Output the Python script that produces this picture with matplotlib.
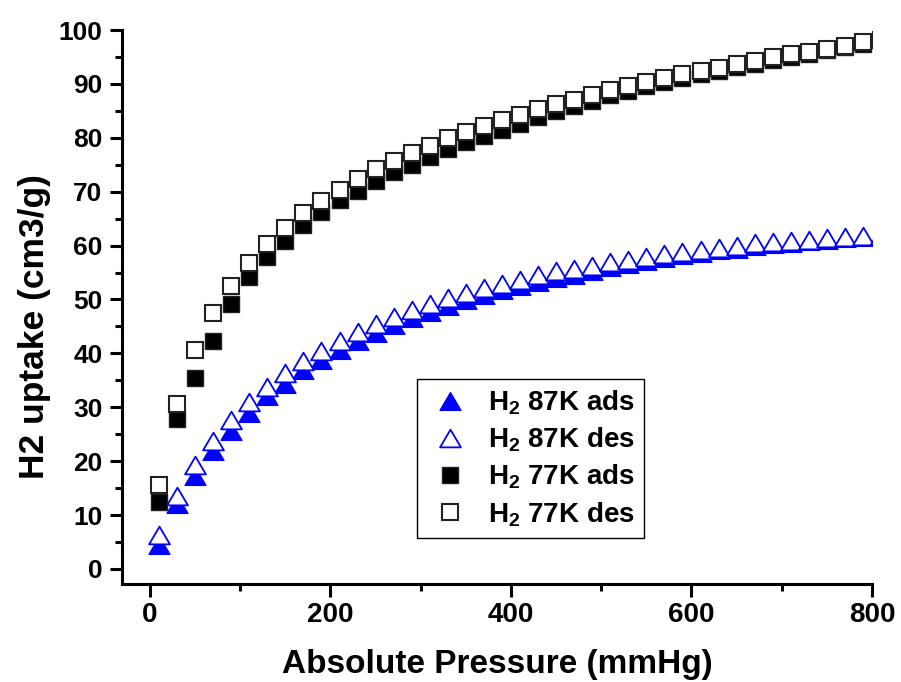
import numpy as np
import matplotlib
matplotlib.use("Agg")
import matplotlib.pyplot as plt
from matplotlib.path import Path
from matplotlib.ticker import MultipleLocator

plt.rcParams['font.family'] = ['Liberation Sans', 'DejaVu Sans']
plt.rcParams['font.weight'] = 'bold'
plt.rcParams['mathtext.fontset'] = 'custom'
plt.rcParams['mathtext.rm'] = 'Liberation Sans:bold'
plt.rcParams['mathtext.bf'] = 'Liberation Sans:bold'

# pressure points (mmHg)
pressure = list(range(10, 800, 20))
pressure_des = pressure + [810]

# H2 uptake at 87 K (cm3/g)
h2_87_ads = [4.4, 12.0, 17.2, 21.8, 25.5, 29.0, 32.1, 34.4, 36.9, 38.7,
             40.7, 42.3, 43.8, 45.3, 46.5, 47.7, 48.8, 49.9, 50.8, 51.7,
             52.5, 53.3, 54.0, 54.6, 55.3, 56.0, 56.5, 57.1, 57.7, 58.2,
             58.7, 59.1, 59.4, 59.9, 60.2, 60.5, 60.8, 61.1, 61.4, 61.6]
h2_87_des = [6.3, 13.6, 19.3, 23.8, 27.6, 30.9, 33.8, 36.4, 38.6, 40.5,
             42.3, 43.9, 45.5, 46.8, 48.0, 49.1, 50.2, 51.2, 52.1, 52.9,
             53.7, 54.5, 55.2, 55.7, 56.3, 56.9, 57.4, 57.9, 58.4, 58.8,
             59.2, 59.5, 60.0, 60.4, 60.6, 60.8, 61.1, 61.4, 61.6, 61.8, 61.9]

# H2 uptake at 77 K (cm3/g)
h2_77_ads = [12.5, 27.8, 35.4, 42.3, 49.2, 54.1, 57.9, 60.8, 63.8, 66.2,
             68.4, 70.2, 71.9, 73.6, 75.0, 76.4, 77.9, 79.2, 80.4, 81.5,
             82.6, 83.8, 84.9, 85.9, 86.9, 88.0, 88.7, 89.6, 90.3, 91.1,
             91.8, 92.4, 93.1, 93.7, 94.4, 95.0, 95.6, 96.2, 96.8, 97.4]
h2_77_des = [15.6, 30.6, 40.6, 47.4, 52.5, 56.7, 60.3, 63.3, 66.0, 68.3,
             70.4, 72.3, 74.2, 75.7, 77.1, 78.5, 79.9, 81.1, 82.2, 83.3,
             84.3, 85.3, 86.2, 87.0, 87.9, 88.9, 89.6, 90.4, 91.1, 91.8,
             92.4, 93.0, 93.6, 94.2, 94.9, 95.5, 96.0, 96.5, 97.1, 97.7, 98.2]

labels = [r'$\mathbf{H_2}$ 87K ads', r'$\mathbf{H_2}$ 87K des',
          r'$\mathbf{H_2}$ 77K ads', r'$\mathbf{H_2}$ 77K des']

# slightly squat up-triangle, closed so the hollow one gets all three edges
tri = Path([(0, 0.85), (-1, -0.85), (1, -0.85), (0, 0.85)], closed=True)
blue = '#0000ff'

fig = plt.figure(figsize=(9.01, 6.82), dpi=100)
ax = fig.add_axes([0.1354, 0.1437, 0.8324, 0.8123])

l1, = ax.plot(pressure, h2_87_ads, ls='none', marker=tri, ms=15,
              mfc=blue, mec=blue, mew=1.0)
l2, = ax.plot(pressure_des, h2_87_des, ls='none', marker=tri, ms=15,
              mfc='white', mec=blue, mew=1.3)
l3, = ax.plot(pressure, h2_77_ads, ls='none', marker='s', ms=11,
              mfc='black', mec='#222222', mew=1.0)
l4, = ax.plot(pressure_des, h2_77_des, ls='none', marker='s', ms=11,
              mfc='white', mec='#222222', mew=1.5)

ax.set_xlim(-31, 800)
ax.set_ylim(-2.8, 100)
ax.xaxis.set_major_locator(MultipleLocator(200))
ax.xaxis.set_minor_locator(MultipleLocator(100))
ax.yaxis.set_major_locator(MultipleLocator(10))
ax.yaxis.set_minor_locator(MultipleLocator(5))

for side in ['top', 'right']:
    ax.spines[side].set_visible(False)
for side in ['left', 'bottom']:
    ax.spines[side].set_linewidth(2.2)

ax.tick_params(which='major', direction='out', length=9, width=2.2,
               labelsize=19, pad=5)
ax.tick_params(which='minor', direction='out', length=5, width=2.2)
ax.tick_params(axis='x', labelsize=20, pad=4)

ax.set_xlabel('Absolute Pressure (mmHg)', fontsize=24, fontweight='bold',
              labelpad=15)
ax.set_ylabel('H2 uptake (cm3/g)', fontsize=25.5, fontweight='bold')
ax.yaxis.set_label_coords(-0.095, 0.465)

leg = ax.legend([l1, l2, l3, l4], labels, loc='upper left',
                bbox_to_anchor=(0.393, 0.370), borderaxespad=0,
                fontsize=20, numpoints=1, fancybox=False, framealpha=1,
                edgecolor='black', handlelength=1.66, handletextpad=0.55,
                labelspacing=0.31, borderpad=0.35)
leg.get_frame().set_linewidth(1.0)

fig.savefig('out.png', dpi=100)
